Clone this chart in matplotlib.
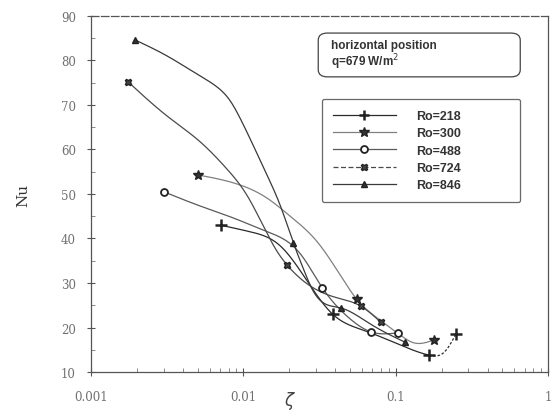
import numpy as np
import matplotlib as mpl
mpl.use('Agg')
import matplotlib.pyplot as plt
from matplotlib.lines import Line2D
from matplotlib.patches import FancyBboxPatch
from matplotlib.ticker import MultipleLocator, LogLocator, NullFormatter, FixedLocator, FixedFormatter

# Nu versus x for five Ro values; *_mark are the indices drawn with a symbol
ro_labels = ["Ro=218", "Ro=300", "Ro=488", "Ro=724", "Ro=846"]

x_218 = [0.0071, 0.0111, 0.0175, 0.025, 0.0385, 0.06, 0.1, 0.165, 0.21, 0.248]
nu_218 = [43.0, 41.5, 38.3, 31.5, 23.0, 19.5, 16.5, 13.8, 14.6, 18.5]
mark_218 = [0, 4, 7, 9]

x_300 = [0.0050, 0.0086, 0.0144, 0.0203, 0.0306, 0.0435, 0.0553, 0.08, 0.11, 0.13, 0.178]
nu_300 = [54.3, 52.5, 49.0, 45.0, 39.2, 31.6, 26.4, 21.5, 18.0, 16.6, 17.2]
mark_300 = [0, 6, 10]

x_488 = [0.0030, 0.0052, 0.0086, 0.0144, 0.0237, 0.033, 0.048, 0.069, 0.103]
nu_488 = [50.5, 47.3, 44.6, 41.5, 36.5, 28.9, 22.5, 19.0, 18.8]
mark_488 = [0, 5, 7, 8]

x_724 = [0.00175, 0.00316, 0.00521, 0.0078, 0.0106, 0.0135, 0.0167, 0.0194, 0.027,
         0.04, 0.0589, 0.0796]
nu_724 = [75.2, 67.5, 61.7, 55.6, 49.6, 42.8, 37.0, 34.0, 29.5, 26.8, 24.8, 21.2]
mark_724 = [0, 7, 10, 11]

x_846 = [0.00195, 0.00316, 0.00521, 0.00674, 0.0082, 0.00955, 0.01164, 0.0144,
         0.0175, 0.0213, 0.0248, 0.0287, 0.0435, 0.068, 0.115]
nu_846 = [84.6, 81.0, 76.5, 74.0, 70.9, 66.9, 60.8, 54.0,
          47.3, 39.0, 33.1, 28.2, 24.4, 20.8, 16.7]
mark_846 = [0, 9, 12, 14]

x_ticks = [0.001, 0.01, 0.1, 1]
x_tick_labels = ["0.001", "0.01", "0.1", "1"]


def spline(xk, yk, xs):
    # natural cubic spline through the points (x already in log10)
    xk = np.asarray(xk, float)
    yk = np.asarray(yk, float)
    n = len(xk)
    h = np.diff(xk)
    A = np.zeros((n, n))
    r = np.zeros(n)
    A[0, 0] = A[-1, -1] = 1.0
    for i in range(1, n - 1):
        A[i, i - 1] = h[i - 1]
        A[i, i] = 2 * (h[i - 1] + h[i])
        A[i, i + 1] = h[i]
        r[i] = 6 * ((yk[i + 1] - yk[i]) / h[i] - (yk[i] - yk[i - 1]) / h[i - 1])
    M = np.linalg.solve(A, r)
    idx = np.clip(np.searchsorted(xk, xs) - 1, 0, n - 2)
    hi = h[idx]
    a = xk[idx + 1] - xs
    b = xs - xk[idx]
    return (M[idx] * a**3 / (6 * hi) + M[idx + 1] * b**3 / (6 * hi)
            + (yk[idx] / hi - M[idx] * hi / 6) * a
            + (yk[idx + 1] / hi - M[idx + 1] * hi / 6) * b)


def smooth(ax, xs, ys, color, ls='-', lw=0.9, start=None, stop=None):
    lx = np.log10(xs)
    a = lx[0] if start is None else np.log10(start)
    b = lx[-1] if stop is None else np.log10(stop)
    fine = np.linspace(a, b, 300)
    ax.plot(10**fine, spline(lx, ys, fine), color=color, ls=ls, lw=lw, zorder=2)


fig = plt.figure(figsize=(5.52, 4.14), dpi=100)
ax = fig.add_axes([0.165, 0.099, 0.828, 0.860])

series = [
    (x_218, nu_218, mark_218, '+', dict(ms=9, mew=1.8), '#2a2a2a'),
    (x_300, nu_300, mark_300, '*', dict(ms=7, mfc='#333333'), '#808080'),
    (x_488, nu_488, mark_488, 'o', dict(ms=5, mfc='white', mew=1.3), '#5a5a5a'),
    (x_724, nu_724, mark_724, 'X', dict(ms=5, mfc='#444444'), '#4a4a4a'),
    (x_846, nu_846, mark_846, '^', dict(ms=5, mfc='#333333'), '#3a3a3a'),
]

handles = []
for (xs, ys, mk_idx, mk, mkw, col), lab in zip(series, ro_labels):
    if lab == "Ro=218":
        # last stretch of this run is dashed
        smooth(ax, xs, ys, col, stop=xs[7])
        smooth(ax, xs, ys, col, ls=(0, (2, 1.5)), start=xs[7])
    else:
        smooth(ax, xs, ys, col)
    mx = [xs[i] for i in mk_idx]
    my = [ys[i] for i in mk_idx]
    ax.plot(mx, my, ls='none', marker=mk, color='#222222', mec='#222222', zorder=3, **mkw)
    ls = (0, (4, 2)) if lab == "Ro=724" else '-'
    handles.append(Line2D([], [], color=col, ls=ls, lw=0.9, marker=mk, mec='#222222',
                          **dict(mkw, ms=min(mkw['ms'], 7))))

ax.set_xscale('log')
ax.set_xlim(0.001, 1)
ax.set_ylim(10, 90)
ax.xaxis.set_major_locator(FixedLocator(x_ticks))
ax.xaxis.set_major_formatter(FixedFormatter(x_tick_labels))
ax.xaxis.set_minor_locator(LogLocator(base=10, subs=np.arange(2, 10)))
ax.xaxis.set_minor_formatter(NullFormatter())
ax.yaxis.set_major_locator(MultipleLocator(10))
ax.yaxis.set_minor_locator(MultipleLocator(5))

for lab in ax.get_xticklabels() + ax.get_yticklabels():
    lab.set_fontfamily('DejaVu Serif')
    lab.set_fontsize(8.5)
    lab.set_color('#707070')

ax.tick_params(which='major', direction='inout', length=6, width=0.8, color='#555555', pad=8)
ax.tick_params(which='minor', direction='in', length=3, width=0.6, color='#777777')
ax.tick_params(axis='x', pad=10)
for sp in ax.spines.values():
    sp.set_color('#555555')
    sp.set_linewidth(0.9)
ax.spines['top'].set_linestyle((0, (6, 2)))

ax.set_ylabel("Nu", family='DejaVu Serif', fontsize=11, color='#333333', labelpad=22)
fig.text(0.525, 0.005, r"$\zeta$", fontsize=12, color='#444444', ha='center', va='bottom')

# condition box
box = FancyBboxPatch((0.497, 0.829), 0.442, 0.123, transform=ax.transAxes,
                     boxstyle='round,pad=0,rounding_size=0.02',
                     fc='white', ec='#444444', lw=0.9, zorder=4)
ax.add_patch(box)
ax.text(0.525, 0.89, "horizontal position\nq=679 W/m$^2$", transform=ax.transAxes,
        fontsize=8.5, fontweight='bold', color='#333333', family='Liberation Sans',
        va='center', ha='left', linespacing=1.05, zorder=5)

leg = ax.legend(handles=handles, labels=ro_labels, loc='upper left',
                bbox_to_anchor=(0.505, 0.458, 0.434, 0.309), mode='expand',
                frameon=True, fancybox=True,
                prop=dict(family='Liberation Sans', weight='bold', size=9),
                handlelength=5.0, handletextpad=1.6, labelspacing=0.42,
                borderpad=0.9, borderaxespad=0)
leg.get_frame().set_edgecolor('#444444')
leg.get_frame().set_linewidth(0.9)
for t in leg.get_texts():
    t.set_color('#333333')

fig.savefig('out.png', dpi=100)
